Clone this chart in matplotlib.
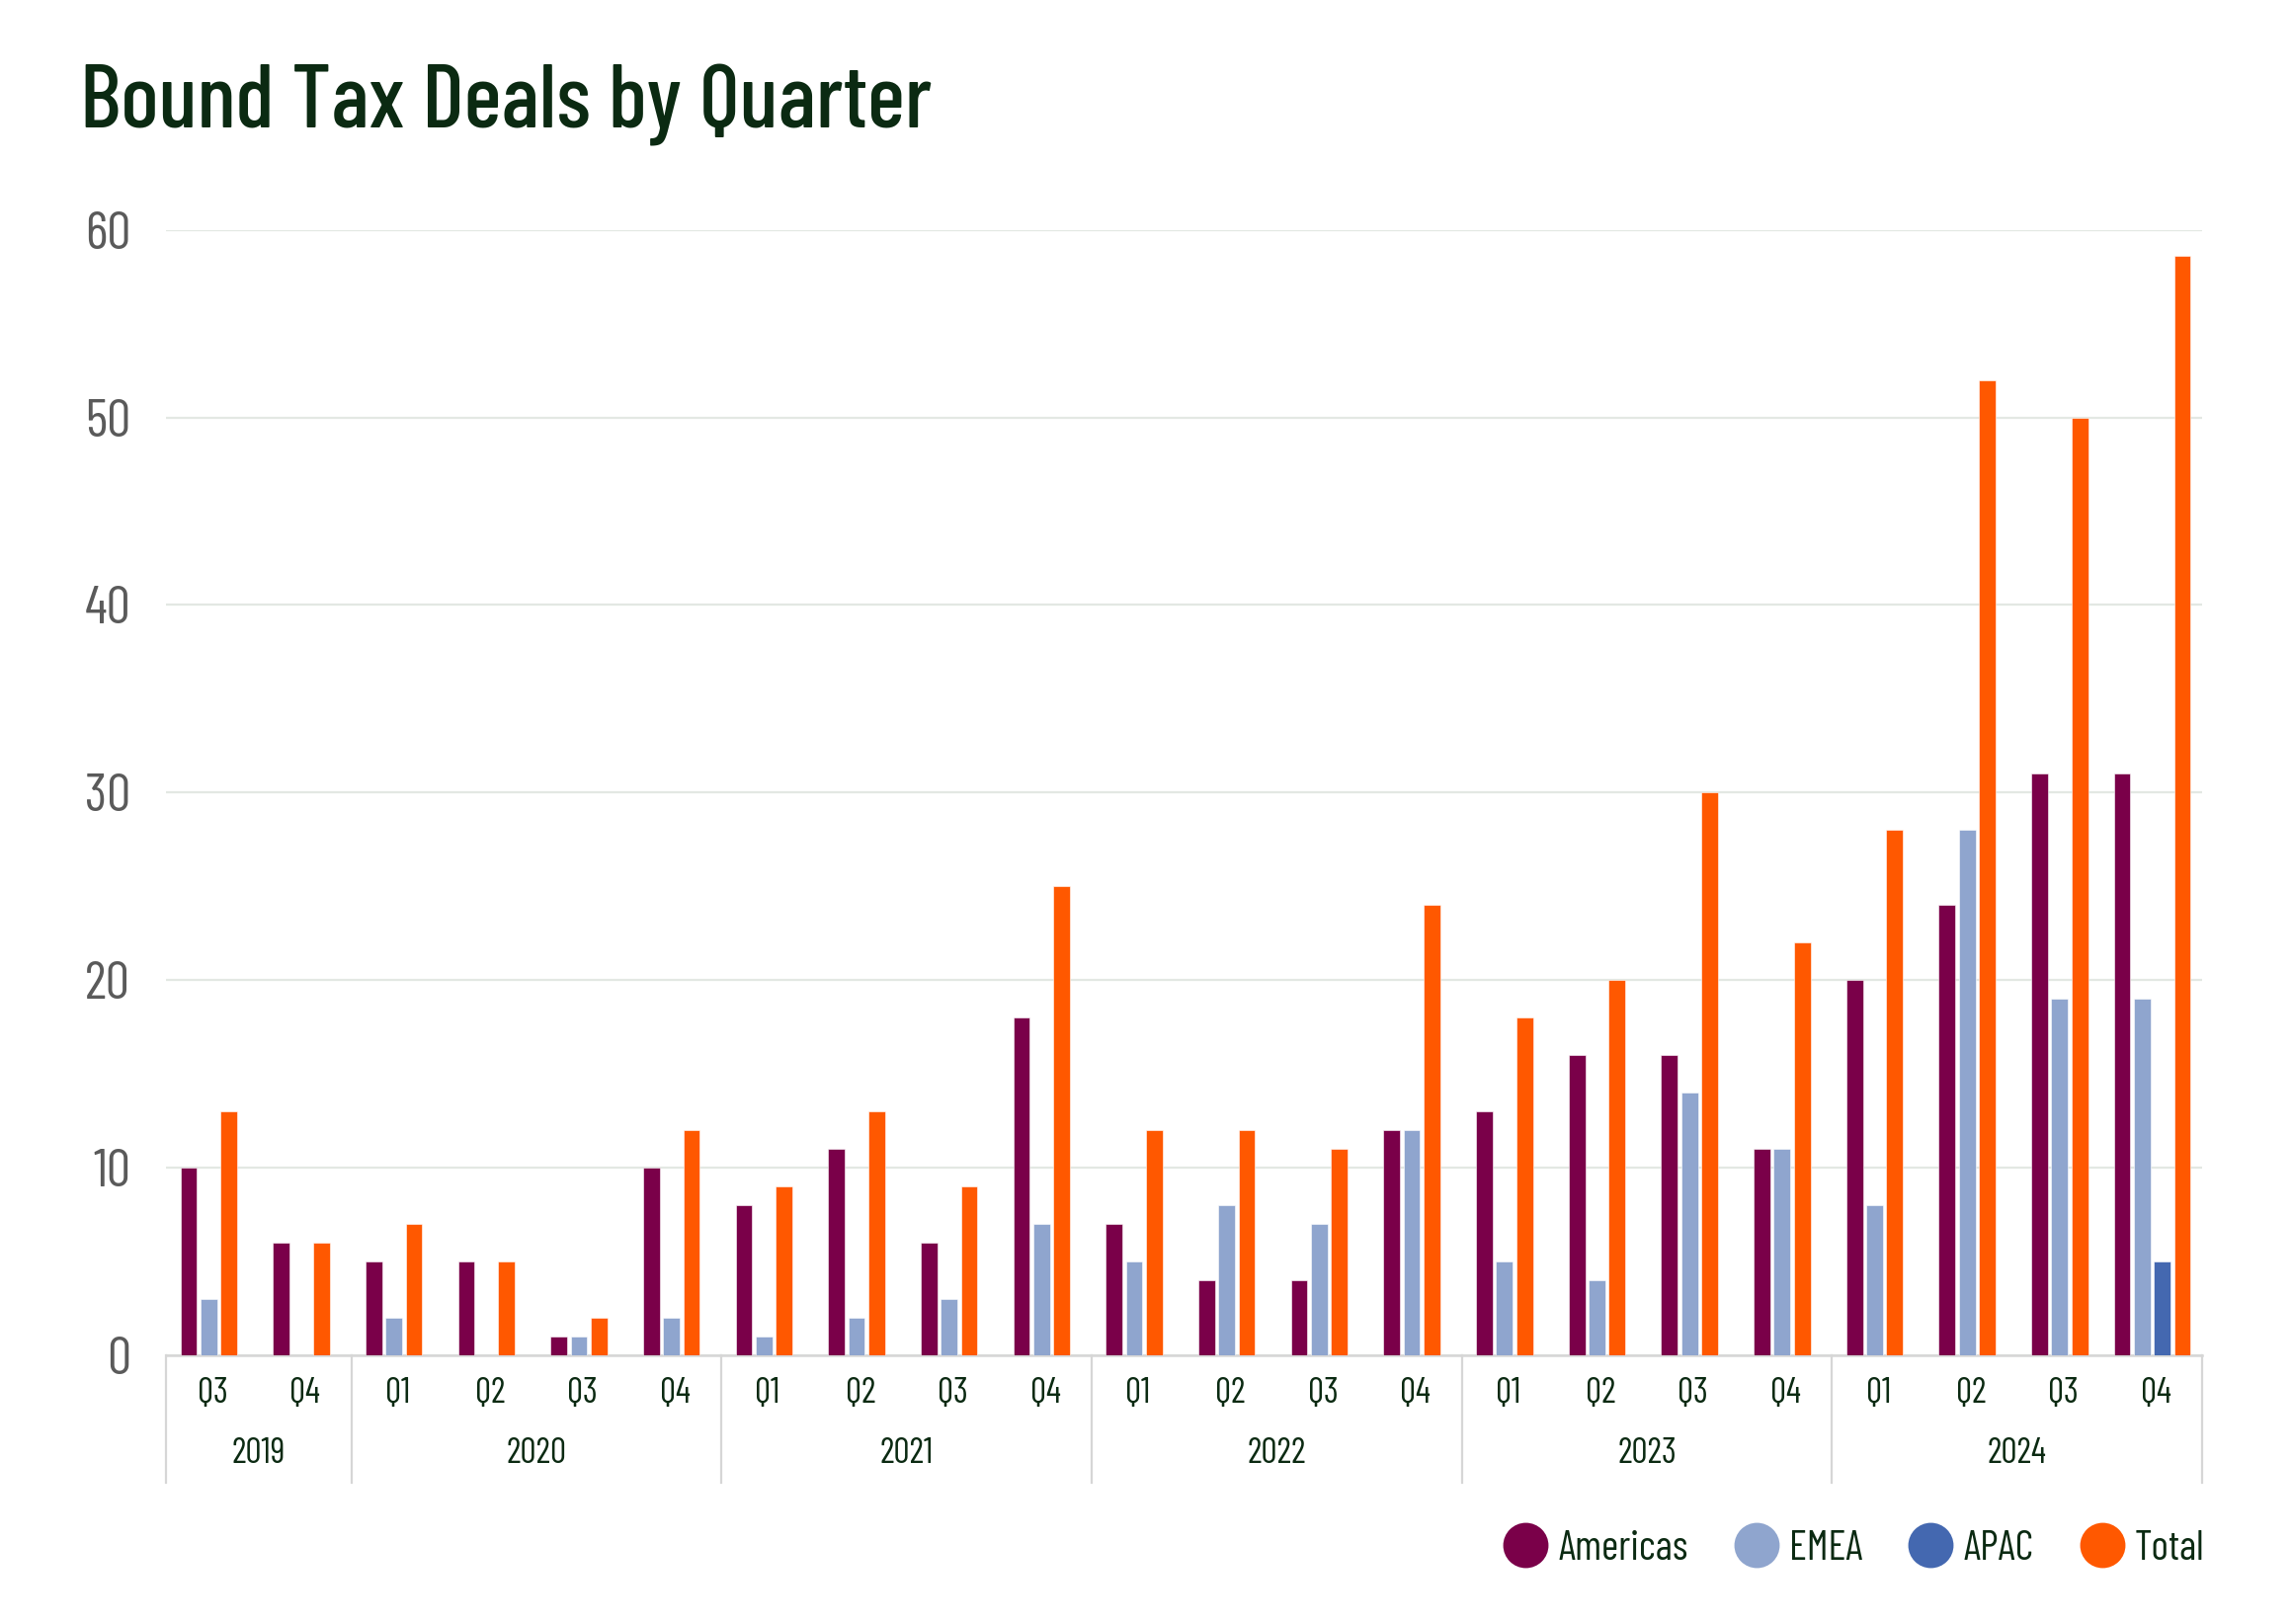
import matplotlib
matplotlib.use("Agg")
import matplotlib.pyplot as plt
from matplotlib.lines import Line2D

plt.rcParams['font.family'] = ['Barlow Condensed', 'Roboto Condensed',
                               'IBM Plex Sans Condensed', 'DejaVu Sans']

# data
years = ['2019', '2020', '2021', '2022', '2023', '2024']
quarters = ['Q3', 'Q4',
            'Q1', 'Q2', 'Q3', 'Q4',
            'Q1', 'Q2', 'Q3', 'Q4',
            'Q1', 'Q2', 'Q3', 'Q4',
            'Q1', 'Q2', 'Q3', 'Q4',
            'Q1', 'Q2', 'Q3', 'Q4']
quarters_per_year = [2, 4, 4, 4, 4, 4]

americas = [10, 6, 5, 5, 1, 10, 8, 11, 6, 18, 7, 4, 4, 12, 13, 16, 16, 11, 20, 24, 31, 31]
emea = [3, 0, 2, 0, 1, 2, 1, 2, 3, 7, 5, 8, 7, 12, 5, 4, 14, 11, 8, 28, 19, 19]
apac = [None] * 21 + [5]
total = [13, 6, 7, 5, 2, 12, 9, 13, 9, 25, 12, 12, 11, 24, 18, 20, 30, 22, 28, 52, 50, 58.6]

series_names = ['Americas', 'EMEA', 'APAC', 'Total']
series_values = [americas, emea, apac, total]
colors = ['#7a0049', '#8fa5ce', '#4468b0', '#ff5800']

title_color = '#0b2a12'
label_color = '#0b2a12'
ytick_color = '#5a5a5a'
line_color = '#d6d6d6'

fig = plt.figure(figsize=(11.6, 8.22), dpi=200)
ax = fig.add_axes([0.0725, 0.1655, 0.8883, 0.693])

slot = 0.217
bar_w = 0.18
shift = -0.04
for i in range(len(quarters)):
    # null points are skipped, the remaining bars stay centred in the category
    present = [s for s in range(4) if series_values[s][i] is not None]
    n = len(present)
    for k, s in enumerate(present):
        x = i + shift + (k - (n - 1) / 2) * slot
        ax.bar(x, series_values[s][i], width=bar_w, color=colors[s],
               edgecolor='white', linewidth=0.2, zorder=3)

ax.set_xlim(-0.5, len(quarters) - 0.5)
ax.set_ylim(0, 60)
ax.set_yticks(range(0, 61, 10))
ax.yaxis.grid(True, color='#e3e8e3', linewidth=0.8, zorder=0)
ax.tick_params(axis='y', length=0, pad=13, labelsize=19.5, labelcolor=ytick_color)
ax.set_xticks(range(len(quarters)))
ax.set_xticklabels(quarters)
ax.tick_params(axis='x', length=0, pad=8, labelsize=13, labelcolor=label_color)

for side in ['top', 'right', 'left']:
    ax.spines[side].set_visible(False)
ax.spines['bottom'].set_color(line_color)
ax.spines['bottom'].set_linewidth(0.9)

# year groups underneath the quarter labels
trans = ax.get_xaxis_transform()
start = -0.5
ax.plot([start, start], [0, -0.113], transform=trans, color=line_color,
        linewidth=0.8, clip_on=False)
for yr, nq in zip(years, quarters_per_year):
    end = start + nq
    ax.plot([end, end], [0, -0.113], transform=trans, color=line_color,
            linewidth=0.8, clip_on=False)
    ax.text((start + end) / 2, -0.087, yr, transform=trans, ha='center',
            va='center', fontsize=13, color=label_color)
    start = end

fig.text(0.0351, 0.921, 'Bound Tax Deals by Quarter', fontsize=32.5,
         color=title_color, ha='left', va='baseline', fontweight='medium')

handles = [Line2D([], [], linestyle='none', marker='o', markersize=15.5,
                  markerfacecolor=c, markeredgecolor=c) for c in colors]
fig.legend(handles, series_names, loc='center right', ncol=4, frameon=False,
           bbox_to_anchor=(0.978, 0.046), fontsize=15, labelcolor=label_color,
           handlelength=1.1, handletextpad=0.25, columnspacing=1.1)

fig.savefig('out.png')
